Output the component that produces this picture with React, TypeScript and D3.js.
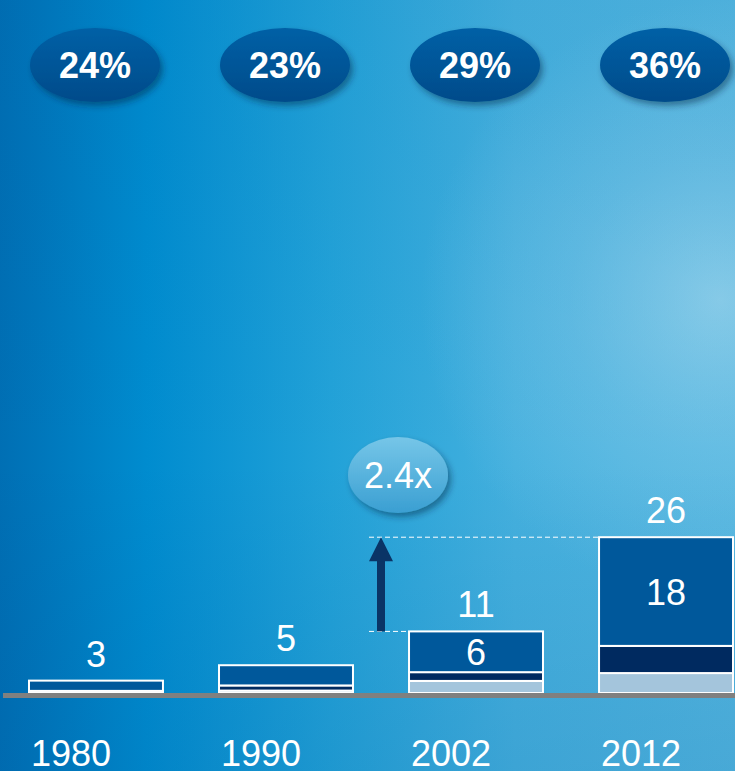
import React from "react";
import * as d3 from "d3";

const years = ["1980", "1990", "2002", "2012"];
const shares = ["24%", "23%", "29%", "36%"];
const totals = [3, 5, 11, 26];
// stacked segments (bottom → top)
const lightSeg = [0, 0.4, 2.0, 3.3];
const navySeg = [0.35, 0.85, 1.45, 4.5];
const mediumSeg = [1.7, 3.35, 6.75, 18];
const mediumLabels = ["", "", "6", "18"];
const growthLabel = "2.4x";

const W = 735;
const H = 771;
const FONT = "'Liberation Sans', Arial, sans-serif";

export default function App() {
  const x = d3.scaleBand<string>().domain(years).range([29, 733]).paddingInner(0.295).paddingOuter(0);
  const y = d3.scaleLinear().domain([0, 26]).range([693, 536]);
  const bw = x.bandwidth();

  const colors = { light: "#a4c5dc", navy: "#002a60", medium: "#00589b" };

  const stacks = years.map((yr, i) => {
    const segs = [
      { key: "light", v: lightSeg[i], color: colors.light },
      { key: "navy", v: navySeg[i], color: colors.navy },
      { key: "medium", v: mediumSeg[i], color: colors.medium },
    ];
    let acc = 0;
    const out = segs.map((s) => {
      const y0 = acc;
      acc += s.v;
      return { ...s, y0, y1: acc };
    });
    return { yr, i, segs: out.filter((s) => s.v > 0), top: acc };
  });

  const i02 = 2, i12 = 3;
  const top02 = y(stacks[i02].top);
  const top12 = y(stacks[i12].top);
  const arrowX = ((x(years[1])! + bw) + x(years[2])!) / 2;
  const dashL = arrowX - 12;

  const bubbleCx = arrowX + 17;
  const bubbleCy = 475;

  return (
    <svg width={W} height={H} style={{ position: "fixed", left: 0, top: 0, display: "block" }}>
      <defs>
        <linearGradient id="bgH" x1="0" x2="1" y1="0" y2="0">
          <stop offset="0" stopColor="#006fb4" />
          <stop offset="0.2" stopColor="#008ccf" />
          <stop offset="0.45" stopColor="#22a2d8" />
          <stop offset="0.7" stopColor="#44b0de" />
          <stop offset="1" stopColor="#52b6e0" />
        </linearGradient>
        <radialGradient id="bgR" cx="720" cy="300" r="300" gradientUnits="userSpaceOnUse">
          <stop offset="0" stopColor="#9ad4ec" stopOpacity="0.75" />
          <stop offset="0.5" stopColor="#8accea" stopOpacity="0.35" />
          <stop offset="1" stopColor="#8accea" stopOpacity="0" />
        </radialGradient>
        <linearGradient id="bgV" x1="0" x2="0" y1="0" y2="1">
          <stop offset="0" stopColor="#003a80" stopOpacity="0.05" />
          <stop offset="0.6" stopColor="#003a80" stopOpacity="0" />
          <stop offset="1" stopColor="#004a90" stopOpacity="0.12" />
        </linearGradient>
        <linearGradient id="ellDark" x1="0" x2="0" y1="0" y2="1">
          <stop offset="0" stopColor="#0060a6" />
          <stop offset="1" stopColor="#004b8a" />
        </linearGradient>
        <linearGradient id="ellLight" x1="0" x2="0" y1="0" y2="1">
          <stop offset="0" stopColor="#76c6e8" />
          <stop offset="1" stopColor="#3a9fd2" />
        </linearGradient>
        <filter id="shadow" x="-30%" y="-30%" width="160%" height="170%">
          <feDropShadow dx="3" dy="4" stdDeviation="3" floodColor="#002040" floodOpacity="0.45" />
        </filter>
      </defs>

      <rect x={0} y={0} width={W} height={H} fill="url(#bgH)" />
      <rect x={0} y={0} width={W} height={H} fill="url(#bgR)" />
      <rect x={0} y={0} width={W} height={H} fill="url(#bgV)" />

      {/* top share ellipses */}
      {years.map((yr, i) => {
        const cx = x(yr)! + bw / 2 - 1;
        return (
          <g key={"s" + yr}>
            <ellipse cx={cx} cy={65} rx={65} ry={37} fill="url(#ellDark)" filter="url(#shadow)" />
            <text x={cx} y={78} textAnchor="middle" fill="#fff" fontFamily={FONT} fontWeight="bold" fontSize={36}>
              {shares[i]}
            </text>
          </g>
        );
      })}

      {/* dashed guide lines */}
      <line x1={dashL} x2={x(years[i12])!} y1={top12} y2={top12} stroke="#fff" strokeWidth={1} strokeDasharray="5,3" />
      <line x1={dashL} x2={x(years[i02])!} y1={top02} y2={top02} stroke="#fff" strokeWidth={1} strokeDasharray="5,3" />

      {/* arrow */}
      <rect x={arrowX - 4} y={top12 + 22} width={8} height={top02 - top12 - 22} fill="#0a3466" />
      <path d={`M${arrowX - 12},${top12 + 24} L${arrowX},${top12} L${arrowX + 12},${top12 + 24} Z`} fill="#0a3466" />

      {/* growth bubble */}
      <ellipse cx={bubbleCx} cy={bubbleCy} rx={50} ry={38} fill="url(#ellLight)" filter="url(#shadow)" />
      <text x={bubbleCx} y={bubbleCy + 13} textAnchor="middle" fill="#fff" fontFamily={FONT} fontSize={36}>
        {growthLabel}
      </text>

      {/* bars */}
      {stacks.map((s) => (
        <g key={"b" + s.yr}>
          {s.segs.map((seg) => (
            <rect
              key={seg.key}
              x={x(s.yr)!}
              y={y(seg.y1)}
              width={bw}
              height={y(seg.y0) - y(seg.y1)}
              fill={seg.color}
              stroke="#fff"
              strokeWidth={2}
            />
          ))}
          {mediumLabels[s.i] && (
            <text
              x={x(s.yr)! + bw / 2}
              y={(y(s.segs[s.segs.length - 1].y0) + y(s.segs[s.segs.length - 1].y1)) / 2 + 13}
              textAnchor="middle"
              fill="#fff"
              fontFamily={FONT}
              fontSize={36}
            >
              {mediumLabels[s.i]}
            </text>
          )}
          <text
            x={x(s.yr)! + bw / 2}
            y={y(s.top) - 14}
            textAnchor="middle"
            fill="#fff"
            fontFamily={FONT}
            fontSize={36}
          >
            {totals[s.i]}
          </text>
          <text x={x(s.yr)! + 2} y={766} fill="#fff" fontFamily={FONT} fontSize={36}>
            {s.yr}
          </text>
        </g>
      ))}

      {/* baseline */}
      <rect x={3} y={693} width={W - 3} height={5} fill="#808080" />
    </svg>
  );
}
